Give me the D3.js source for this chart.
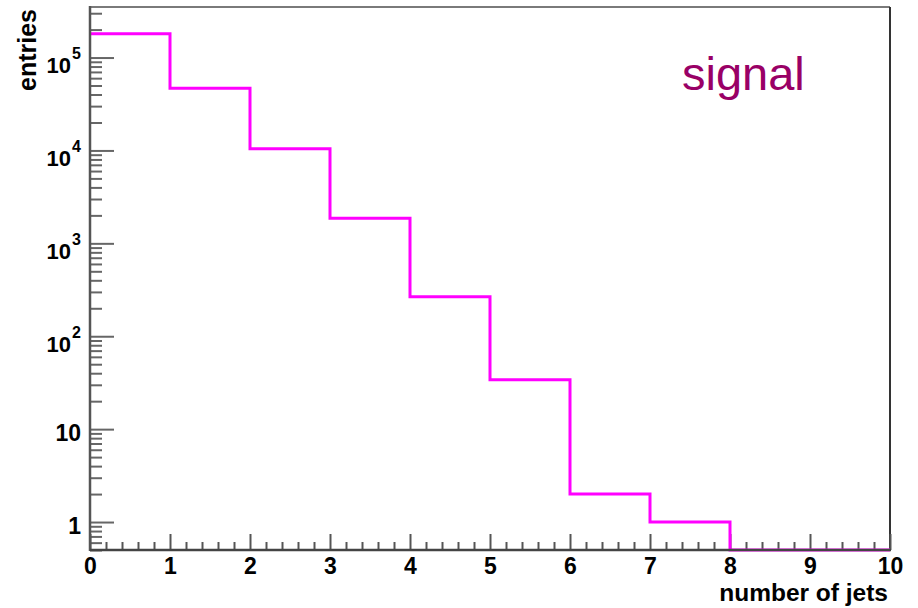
<!DOCTYPE html>
<html>
<head>
<meta charset="utf-8">
<script src="https://cdn.jsdelivr.net/npm/d3@7"></script>
<style>
  html, body { margin: 0; padding: 0; background: #fff; }
  svg { display: block; }
  text { font-family: "Liberation Sans", Arial, Helvetica, sans-serif; }
</style>
</head>
<body>
<svg id="chart" width="918" height="608"></svg>
<script>
// Jet multiplicity histogram: bin edges and entries per bin
const binEdges = [0, 1, 2, 3, 4, 5, 6, 7, 8, 9, 10];
const entries = [180000, 46600, 10400, 1860, 266, 34, 2, 1, 0, 0];
const yMajorTicks = [1, 10, 100, 1000, 10000, 100000];
const yTickLabels = ["1", "10", "10^2", "10^3", "10^4", "10^5"];
const xMajorTicks = [0, 1, 2, 3, 4, 5, 6, 7, 8, 9, 10];
const titleText = "signal";
const xTitle = "number of jets";
const yTitle = "entries";

const svg = d3.select("#chart");
const margin = { left: 90, right: 28, top: 7, bottom: 58 };
const W = 918, H = 608;
const x0 = margin.left, x1 = W - margin.right;
const y0 = H - margin.bottom, y1 = margin.top;

const x = d3.scaleLinear().domain([0, 10]).range([x0, x1]);
const y = d3.scaleLog().domain([0.5, 350000]).range([y0, y1]);

// frame (top and right edges)
svg.append("line").attr("x1", x0).attr("x2", x1).attr("y1", y1).attr("y2", y1)
  .attr("stroke", "#7a7a7a").attr("stroke-width", 2);
svg.append("line").attr("x1", x1).attr("x2", x1).attr("y1", y1).attr("y2", y0)
  .attr("stroke", "#333").attr("stroke-width", 2);

// y minor ticks: 2..9 within each decade, plus those inside the range edges
const yMinor = [];
for (let e = -1; e <= 5; e++) {
  for (let m = 2; m <= 9; m++) {
    const v = m * Math.pow(10, e);
    if (v >= 0.5 && v <= 350000 && !yMajorTicks.includes(v)) yMinor.push(v);
  }
}

const yMinorAxis = d3.axisLeft(y).tickValues(yMinor).tickSize(-12).tickFormat("");
const gyMinor = svg.append("g").attr("transform", `translate(${x0},0)`).call(yMinorAxis);
gyMinor.select(".domain").remove();
gyMinor.selectAll(".tick line").attr("stroke", "#666").attr("stroke-width", 2);

const yMajorAxis = d3.axisLeft(y).tickValues(yMajorTicks).tickSize(-24).tickPadding(9)
  .tickFormat((d, i) => yTickLabels[i]);
const gy = svg.append("g").attr("transform", `translate(${x0},0)`).call(yMajorAxis);
gy.select(".domain").remove();
gy.selectAll(".tick line").attr("stroke", "#666").attr("stroke-width", 2);
gy.selectAll(".tick text")
  .attr("fill", "#000").attr("font-weight", "bold")
  .attr("font-family", "'Liberation Sans', Arial, sans-serif")
  .each(function(d, i) {
    const label = yTickLabels[i];
    const t = d3.select(this);
    t.attr("x", -9).attr("dy", null);
    if (label.includes("^")) {
      // base and exponent stay in one text chunk so the end anchor covers both
      const [base, exp] = label.split("^");
      t.text(null).attr("y", 0).attr("font-size", 22);
      t.append("tspan").text(base).attr("dy", 15);
      t.append("tspan").text(exp).attr("font-size", 16).attr("dy", -14).attr("dx", 1);
    } else {
      t.attr("y", 11).attr("font-size", 23);
    }
  });

// x axis: minor ticks every 0.2, major at integers
const xMinor = d3.range(0, 50).map(i => i * 0.2).filter(v => Math.abs(v - Math.round(v)) > 1e-6);
const xMinorAxis = d3.axisBottom(x).tickValues(xMinor).tickSize(-8).tickFormat("");
const gxMinor = svg.append("g").attr("transform", `translate(0,${y0})`).call(xMinorAxis);
gxMinor.select(".domain").remove();
gxMinor.selectAll(".tick line").attr("stroke", "#555").attr("stroke-width", 2);

const xMajorAxis = d3.axisBottom(x).tickValues(xMajorTicks).tickSize(-16).tickPadding(9)
  .tickFormat(d3.format("d"));
const gx = svg.append("g").attr("transform", `translate(0,${y0})`).call(xMajorAxis);
gx.select(".domain").remove();
gx.selectAll(".tick line").attr("stroke", "#555").attr("stroke-width", 2);
gx.selectAll(".tick text")
  .attr("fill", "#000").attr("font-size", 23).attr("font-weight", "bold")
  .attr("dy", null).attr("y", 24)
  .attr("font-family", "'Liberation Sans', Arial, sans-serif");

// histogram outline (empty bins sit on the lower edge)
const ymin = y.domain()[0];
const pts = [];
entries.forEach((v, i) => {
  const yy = y(Math.max(v, ymin));
  pts.push([x(binEdges[i]), yy]);
  pts.push([x(binEdges[i + 1]), yy]);
});
svg.append("path")
  .attr("d", d3.line()(pts))
  .attr("fill", "none")
  .attr("stroke", "#ff00ff")
  .attr("stroke-width", 3)
  .attr("stroke-linejoin", "miter");

// axis lines on top
svg.append("line").attr("x1", x0).attr("x2", x0).attr("y1", y1 - 1).attr("y2", y0 + 1)
  .attr("stroke", "#555").attr("stroke-width", 2.5);
svg.append("line").attr("x1", x0).attr("x2", x1 + 1).attr("y1", y0).attr("y2", y0)
  .attr("stroke", "#444").attr("stroke-width", 2.5);

// axis titles
svg.append("text")
  .attr("transform", `translate(36,9) rotate(-90)`)
  .attr("text-anchor", "end")
  .attr("font-size", 25).attr("font-weight", "bold")
  .text(yTitle);
svg.append("text")
  .attr("x", 888).attr("y", 601)
  .attr("text-anchor", "end")
  .attr("font-size", 24.5).attr("font-weight", "bold")
  .text(xTitle);

// sample label
svg.append("text")
  .attr("x", 682).attr("y", 90)
  .attr("font-size", 47)
  .attr("fill", "#990066")
  .text(titleText);
</script>
</body>
</html>
